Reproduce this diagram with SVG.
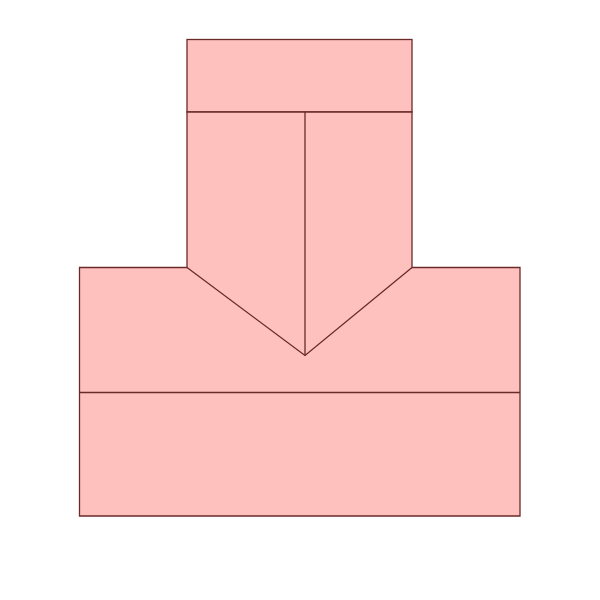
<svg xmlns="http://www.w3.org/2000/svg" width="600" height="600" viewBox="0 0 600 600">
<style>
.s{fill:#FFC1BE;stroke:#6B2A2A;stroke-width:1.3;stroke-linejoin:miter}
.l{fill:none;stroke:#6B2A2A;stroke-width:1.3}
</style>
<rect width="600" height="600" fill="#fff"/>
<g id="top">
<rect class="s" x="187" y="39.5" width="225" height="72.5"/>
</g>
<g id="body">
<path class="s" d="M79.5,267.5 H187 V112 H412 V267.5 H520 V516 H79.5 Z"/>
</g>
<g id="lines">
<path class="l" d="M187,267.5 L305,355.5 L412,267.5"/>
<path class="l" d="M305,112 V355.5"/>
<path class="l" d="M79.5,392.5 H520"/>
</g>
</svg>
